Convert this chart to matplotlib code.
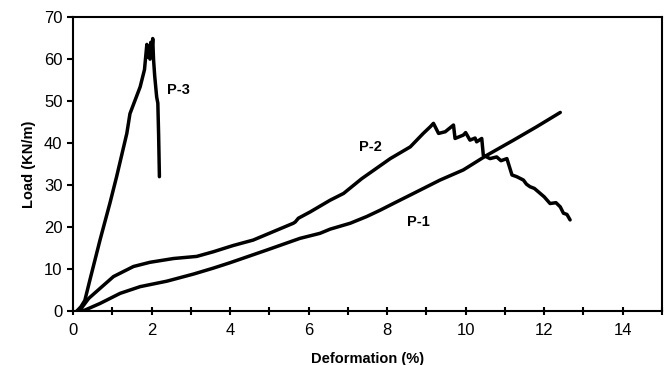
import matplotlib
matplotlib.use("Agg")
import matplotlib.pyplot as plt
from matplotlib.ticker import MultipleLocator

plt.rcParams['font.family'] = ['Liberation Sans', 'DejaVu Sans']

# P-1 curve (deformation %, load kN/m)
p1_x = [0.15, 0.3, 0.69, 1.2, 1.71, 2.39, 3.07, 3.57, 4.0, 4.93, 5.78, 6.29,
        6.55, 7.06, 7.48, 7.82, 8.2, 8.67, 9.35, 9.94, 10.54, 11.22, 11.81,
        12.41]
p1_y = [0.0, 0.2, 1.8, 4.2, 5.8, 7.1, 8.8, 10.2, 11.5, 14.5, 17.3, 18.5,
        19.5, 20.9, 22.5, 24.0, 25.8, 28.0, 31.2, 33.6, 37.1, 40.7, 43.9,
        47.3]

# P-2 curve
p2_x = [0.1, 0.2, 0.4, 0.69, 1.03, 1.54, 1.96, 2.56, 3.15, 3.57, 4.08, 4.59,
        5.1, 5.61, 5.66, 5.74, 6.04, 6.55, 6.89, 7.35, 7.7, 8.08, 8.59, 8.92,
        9.1, 9.18, 9.31, 9.48, 9.69, 9.73, 9.94, 10.0, 10.11, 10.24, 10.28,
        10.41, 10.45, 10.62, 10.79, 10.9, 11.05, 11.18, 11.3, 11.47, 11.55,
        11.64, 11.75, 11.9, 12.0, 12.15, 12.3, 12.41, 12.49, 12.58, 12.66]
p2_y = [0.0, 0.5, 3.0, 5.4, 8.2, 10.6, 11.6, 12.5, 13.0, 14.1, 15.6, 16.9,
        18.9, 20.9, 21.2, 22.1, 23.6, 26.4, 28.0, 31.5, 33.8, 36.3, 39.1, 42.3,
        43.9, 44.7, 42.3, 42.7, 44.3, 41.1, 41.9, 42.5, 40.7, 41.2, 40.3,
        41.1, 37.1, 36.3, 36.7, 35.8, 36.3, 32.4, 32.0, 31.2, 30.2,
        29.6, 29.2, 28.0, 27.2, 25.6, 25.8, 24.8, 23.3, 23.0, 21.7]

# P-3 curve
p3_x = [0.1, 0.2, 0.3, 0.43, 0.69, 0.94, 1.11, 1.37, 1.45, 1.71, 1.82, 1.88, 1.9,
        1.93, 1.96, 1.98, 2.0, 2.03, 2.05, 2.08, 2.13, 2.16, 2.18, 2.2]
p3_y = [0.0, 1.0, 2.5, 7.4, 17.0, 25.7, 32.0, 42.3, 47.0, 53.4, 57.5, 63.5, 60.5,
        63.0, 60.0, 64.0, 61.0, 64.9, 60.0, 56.0, 51.0, 49.5, 42.0, 32.0]

labels = ["P-1", "P-2", "P-3"]
label_pos = [(8.8, 21.2), (7.57, 39.1), (2.68, 52.6)]

fig = plt.figure(figsize=(6.7, 3.65), dpi=100)
ax = fig.add_axes([0.109, 0.148, 0.879, 0.805])

for xs, ys in [(p1_x, p1_y), (p2_x, p2_y), (p3_x, p3_y)]:
    ax.plot(xs, ys, color='black', lw=2.5, solid_joinstyle='round',
            solid_capstyle='round')

for lab, (lx, ly) in zip(labels, label_pos):
    ax.text(lx, ly, lab, fontsize=10.5, fontweight='bold', ha='center', va='center')

ax.set_xlim(0, 15)
ax.set_ylim(0, 70)
ax.xaxis.set_major_locator(MultipleLocator(2))
ax.xaxis.set_minor_locator(MultipleLocator(1))
ax.yaxis.set_major_locator(MultipleLocator(10))
ax.tick_params(axis='x', which='both', direction='inout', length=6, width=1.5,
               labelsize=12, pad=6)
ax.tick_params(axis='y', direction='out', length=4, width=1.5, labelsize=12)
for s in ax.spines.values():
    s.set_linewidth(1.5)

ax.set_xlabel("Deformation (%)", fontsize=10.5, fontweight='bold', labelpad=10)
ax.set_ylabel("Load (KN/m)", fontsize=10.5, fontweight='bold', labelpad=6)

fig.savefig("out.png", dpi=100)
